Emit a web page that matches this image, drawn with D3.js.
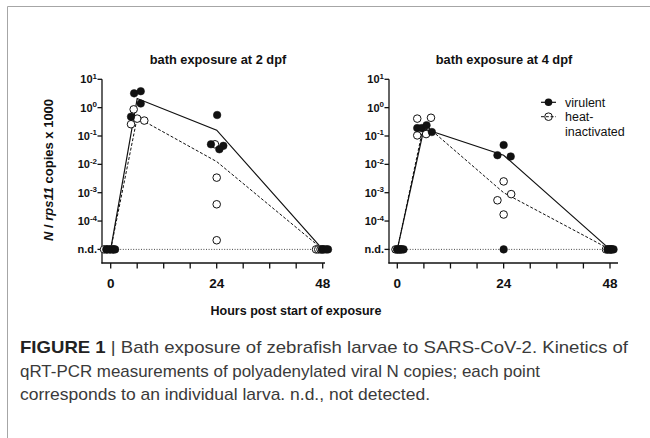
<!DOCTYPE html>
<html><head><meta charset="utf-8">
<script src="https://cdn.jsdelivr.net/npm/d3@7"></script>
<style>
html,body{margin:0;padding:0;background:#fff;}
svg{display:block;font-family:"Liberation Sans",Arial,Helvetica,sans-serif;}
</style></head>
<body>
<svg id="chart" width="650" height="438"></svg>
<script>
// ---------- data ----------
const ND = 1e-5;                         // "n.d." plotted one decade below 10^-4
const majorHours = [0, 24, 48];
const minorHours = [6, 12, 18, 30, 36, 42];
const yTickExps = [1, 0, -1, -2, -3, -4];
const panelTitles = ["bath exposure at 2 dpf", "bath exposure at 4 dpf"];
const seriesNames = ["virulent", "heat-inactivated"];

// 2 dpf : [hour (jittered), value]
const virulent2dpf = [
  [-1.0, ND], [-0.3, ND], [0.5, ND], [1.0, ND],
  [5.3, 3.2], [6.8, 3.8], [6.8, 1.4], [4.6, 0.48],
  [24.1, 0.55], [22.7, 0.051], [25.5, 0.045], [24.6, 0.034],
  [47.8, ND], [48.3, ND], [48.8, ND], [49.2, ND]
];
const heat2dpf = [
  [-1.5, ND], [-0.8, ND], [0.0, ND], [0.6, ND],
  [5.2, 0.87], [4.6, 0.26], [6.0, 0.41], [7.6, 0.35],
  [23.6, 0.051], [24.0, 0.0034], [24.0, 0.00039], [24.0, 0.000021],
  [46.5, ND], [47.0, ND], [47.5, ND], [48.0, ND]
];
const virulentMean2dpf = [[0, ND], [6, 2.1], [24, 0.16], [48, ND]];
const heatMean2dpf = [[0, ND], [6, 0.45], [24, 0.0125], [48, ND]];

// 4 dpf
const virulent4dpf = [
  [0.0, ND], [0.5, ND], [1.0, ND], [1.4, ND],
  [4.5, 0.19], [5.5, 0.19], [6.6, 0.24], [7.8, 0.138],
  [24.0, 0.048], [22.6, 0.021], [25.6, 0.019], [24.0, ND],
  [47.5, ND], [48.0, ND], [48.4, ND], [48.8, ND]
];
const heat4dpf = [
  [-0.4, ND], [0.0, ND], [0.4, ND], [0.8, ND],
  [4.5, 0.41], [7.6, 0.44], [4.5, 0.105], [6.5, 0.117],
  [24.0, 0.0025], [25.7, 0.00089], [22.6, 0.00054], [24.0, 0.00017],
  [47.1, ND], [47.5, ND], [48.0, ND], [48.3, ND]
];
const virulentMean4dpf = [[0, ND], [6, 0.18], [24, 0.021], [48, ND]];
const heatMean4dpf = [[0, ND], [6, 0.27], [24, 0.001], [48, ND]];

// ---------- layout ----------
const svg = d3.select("#chart");
const INK = "#111";
const R = 3.8;

// frame
svg.append("path").attr("d", "M7.5,438 V6.5 H650").attr("fill", "none")
  .attr("stroke", "#a6a6a6").attr("stroke-width", 1);

const y = d3.scaleLog().domain([Math.pow(10, -5.48), 10]).range([263, 79.3]);

const panels = [
  {title: panelTitles[0], axisX: 102, xs: d3.scaleLinear().domain([0, 48]).range([110.7, 322.7]), xEnd: 325,
   vir: virulent2dpf, heat: heat2dpf, virMean: virulentMean2dpf, heatMean: heatMean2dpf, titleX: 218},
  {title: panelTitles[1], axisX: 389, xs: d3.scaleLinear().domain([0, 48]).range([397.3, 610]), xEnd: 618,
   vir: virulent4dpf, heat: heat4dpf, virMean: virulentMean4dpf, heatMean: heatMean4dpf, titleX: 504}
];

panels.forEach(p => {
  const g = svg.append("g");
  const x = p.xs;
  // title
  g.append("text").attr("x", p.titleX).attr("y", 64).attr("text-anchor", "middle")
    .attr("font-weight", "bold").attr("font-size", 12.8).attr("fill", INK).text(p.title);

  // y axis
  g.append("line").attr("x1", p.axisX).attr("x2", p.axisX).attr("y1", y(10)).attr("y2", 263.5)
    .attr("stroke", INK).attr("stroke-width", 1.3);
  const yTicks = yTickExps.map(e => Math.pow(10, e)).concat([ND]);
  yTicks.forEach((v, i) => {
    const yy = y(v);
    g.append("line").attr("x1", p.axisX - 4.5).attr("x2", p.axisX).attr("y1", yy).attr("y2", yy)
      .attr("stroke", INK).attr("stroke-width", 1.3);
    const t = g.append("text").attr("x", p.axisX - 5).attr("y", yy + 4).attr("text-anchor", "end")
      .attr("font-weight", "bold").attr("font-size", 11).attr("fill", INK);
    if (v === ND) {
      t.text("n.d.");
    } else {
      t.append("tspan").text("10");
      t.append("tspan").attr("dy", -4.5).attr("font-size", 8).text(String(yTickExps[i]));
    }
  });

  // x axis
  g.append("line").attr("x1", p.axisX - 0.6).attr("x2", p.xEnd).attr("y1", 263).attr("y2", 263)
    .attr("stroke", INK).attr("stroke-width", 1.3);
  majorHours.concat(minorHours).forEach(h => {
    g.append("line").attr("x1", x(h)).attr("x2", x(h)).attr("y1", 263).attr("y2", 268.5)
      .attr("stroke", INK).attr("stroke-width", 1.3);
  });
  majorHours.forEach(h => {
    g.append("text").attr("x", x(h)).attr("y", 288).attr("text-anchor", "middle")
      .attr("font-weight", "bold").attr("font-size", 13.5).attr("fill", INK).text(h);
  });

  // n.d. dotted line
  g.append("line").attr("x1", p.axisX).attr("x2", x(48)).attr("y1", y(ND)).attr("y2", y(ND))
    .attr("stroke", "#333").attr("stroke-width", 0.9).attr("stroke-dasharray", "1,1.6");

  // mean lines
  const line = d3.line().x(d => x(d[0])).y(d => y(d[1]));
  g.append("path").attr("d", line(p.virMean)).attr("fill", "none").attr("stroke", INK).attr("stroke-width", 1.2);
  g.append("path").attr("d", line(p.heatMean)).attr("fill", "none").attr("stroke", INK)
    .attr("stroke-width", 1).attr("stroke-dasharray", "3,1.8");

  // points
  g.selectAll(".heat").data(p.heat).enter().append("circle")
    .attr("cx", d => x(d[0])).attr("cy", d => y(d[1])).attr("r", R)
    .attr("fill", "#fff").attr("stroke", INK).attr("stroke-width", 1);
  g.selectAll(".vir").data(p.vir).enter().append("circle")
    .attr("cx", d => x(d[0])).attr("cy", d => y(d[1])).attr("r", R)
    .attr("fill", INK).attr("stroke", INK).attr("stroke-width", 0.5);
});

// y-axis title
const yl = svg.append("text").attr("transform", "translate(53,170) rotate(-90)")
  .attr("text-anchor", "middle").attr("font-weight", "bold").attr("font-size", 13).attr("fill", INK);
yl.append("tspan").attr("font-style", "italic").text("N");
yl.append("tspan").text(" / ");
yl.append("tspan").attr("font-style", "italic").text("rps11");
yl.append("tspan").text(" copies x 1000");

// x-axis title
svg.append("text").attr("x", 296).attr("y", 315).attr("text-anchor", "middle")
  .attr("font-weight", "bold").attr("font-size", 12.5).attr("fill", INK).text("Hours post start of exposure");

// legend
const lg = svg.append("g");
lg.append("line").attr("x1", 541).attr("x2", 556).attr("y1", 102.3).attr("y2", 102.3).attr("stroke", INK).attr("stroke-width", 1.2);
lg.append("circle").attr("cx", 548.5).attr("cy", 102.3).attr("r", R).attr("fill", INK);
lg.append("line").attr("x1", 541).attr("x2", 556).attr("y1", 116.7).attr("y2", 116.7).attr("stroke", INK).attr("stroke-width", 1).attr("stroke-dasharray", "3,1.8");
lg.append("circle").attr("cx", 548.5).attr("cy", 116.7).attr("r", R).attr("fill", "none").attr("stroke", INK).attr("stroke-width", 1);
lg.append("text").attr("x", 565).attr("y", 106.5).attr("font-size", 12.5).attr("fill", INK).text(seriesNames[0]);
const ht = lg.append("text").attr("x", 565).attr("y", 121).attr("font-size", 12.5).attr("fill", INK);
ht.append("tspan").attr("x", 565).text("heat-");
ht.append("tspan").attr("x", 565).attr("dy", 15).text("inactivated");

// caption
const cap = svg.append("g").attr("font-size", 17).attr("fill", "#3a3a3a");
const c1 = cap.append("text").attr("x", 20).attr("y", 352.5)
  .attr("textLength", 608).attr("lengthAdjust", "spacingAndGlyphs");
c1.append("tspan").attr("font-weight", "bold").attr("fill", "#222").text("FIGURE 1");
c1.append("tspan").text(" | Bath exposure of zebrafish larvae to SARS-CoV-2. Kinetics of");
cap.append("text").attr("x", 20).attr("y", 376.5).attr("textLength", 520).attr("lengthAdjust", "spacingAndGlyphs")
  .text("qRT-PCR measurements of polyadenylated viral N copies; each point");
cap.append("text").attr("x", 20).attr("y", 399.5).attr("textLength", 410).attr("lengthAdjust", "spacingAndGlyphs")
  .text("corresponds to an individual larva. n.d., not detected.");
</script>
</body></html>
